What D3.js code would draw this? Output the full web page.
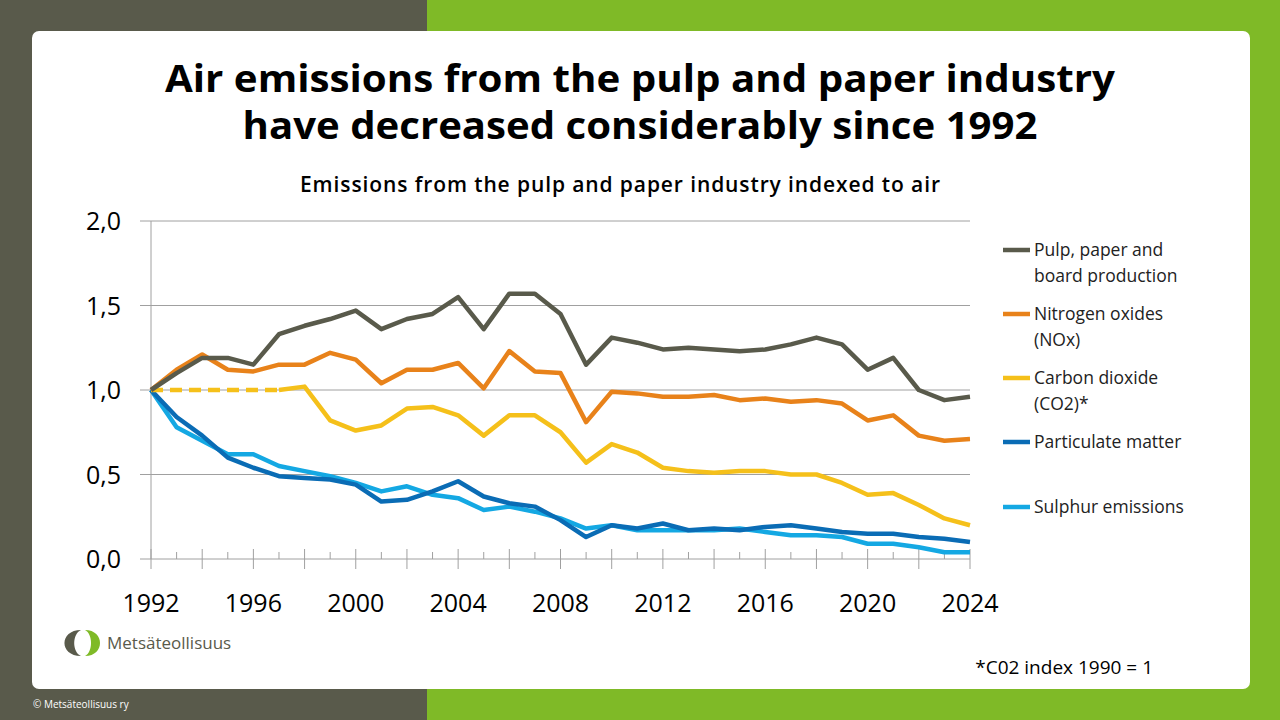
<!DOCTYPE html>
<html><head><meta charset="utf-8">
<script src="https://cdn.jsdelivr.net/npm/d3@7"></script>
<style>body{margin:0;overflow:hidden}svg{display:block;font-family:"Open Sans",sans-serif}</style>
</head><body>
<script>
var years = d3.range(1992, 2025);
var pulp = [1.0,1.10,1.19,1.19,1.15,1.33,1.38,1.42,1.47,1.36,1.42,1.45,1.55,1.36,1.57,1.57,1.45,1.15,1.31,1.28,1.24,1.25,1.24,1.23,1.24,1.27,1.31,1.27,1.12,1.19,1.00,0.94,0.96];
var nox = [1.0,1.12,1.21,1.12,1.11,1.15,1.15,1.22,1.18,1.04,1.12,1.12,1.16,1.01,1.23,1.11,1.10,0.81,0.99,0.98,0.96,0.96,0.97,0.94,0.95,0.93,0.94,0.92,0.82,0.85,0.73,0.70,0.71];
var co2 = [1.0,1.0,1.0,1.0,1.0,1.0,1.02,0.82,0.76,0.79,0.89,0.90,0.85,0.73,0.85,0.85,0.75,0.57,0.68,0.63,0.54,0.52,0.51,0.52,0.52,0.50,0.50,0.45,0.38,0.39,0.32,0.24,0.20];
var particulate = [1.0,0.84,0.73,0.60,0.54,0.49,0.48,0.47,0.44,0.34,0.35,0.40,0.46,0.37,0.33,0.31,0.23,0.13,0.20,0.18,0.21,0.17,0.18,0.17,0.19,0.20,0.18,0.16,0.15,0.15,0.13,0.12,0.10];
var sulphur = [1.0,0.78,0.70,0.62,0.62,0.55,0.52,0.49,0.45,0.40,0.43,0.38,0.36,0.29,0.31,0.28,0.24,0.18,0.20,0.17,0.17,0.17,0.17,0.18,0.16,0.14,0.14,0.13,0.09,0.09,0.07,0.04,0.04];
var co2DashedUntil = 1997;
var seriesNames = [["Pulp, paper and","board production"],["Nitrogen oxides","(NOx)"],["Carbon dioxide","(CO2)*"],["Particulate matter"],["Sulphur emissions"]];
var colors = ["#595a4b","#e8821a","#f5c01a","#0a6cb5","#14a8e3"];
var yTicks = [0,0.5,1.0,1.5,2.0];

var svg = d3.select("body").append("svg").attr("width",1280).attr("height",720);
svg.append("rect").attr("width",1280).attr("height",720).attr("fill","#7fba27");
svg.append("rect").attr("width",427).attr("height",720).attr("fill","#595a4b");
svg.append("rect").attr("x",32).attr("y",31).attr("width",1218).attr("height",658).attr("rx",7).attr("fill","#fff");

svg.append("text").attr("x",640).attr("y",92).attr("text-anchor","middle").attr("font-size",37).attr("font-weight",700).attr("textLength",950).attr("lengthAdjust","spacingAndGlyphs").text("Air emissions from the pulp and paper industry");
svg.append("text").attr("x",640).attr("y",139).attr("text-anchor","middle").attr("font-size",37).attr("font-weight",700).attr("textLength",795).attr("lengthAdjust","spacingAndGlyphs").text("have decreased considerably since 1992");
svg.append("text").attr("x",620).attr("y",192).attr("text-anchor","middle").attr("font-size",21).attr("font-weight",600).attr("textLength",640).text("Emissions from the pulp and paper industry indexed to air");

var x = d3.scaleLinear().domain([1992,2024]).range([151,970]);
var y = d3.scaleLinear().domain([0,2]).range([559,221]);

var g = svg.append("g");
g.selectAll(".grid").data(yTicks).enter().append("line")
  .attr("x1",140).attr("x2",970).attr("y1",function(d){return y(d)}).attr("y2",function(d){return y(d)})
  .attr("stroke","#a0a0a0").attr("stroke-width",1);
g.append("line").attr("x1",151).attr("x2",151).attr("y1",221).attr("y2",559).attr("stroke","#a0a0a0");
g.selectAll(".yl").data(yTicks).enter().append("text")
  .attr("x",121).attr("y",function(d){return y(d)+9}).attr("text-anchor","end").attr("font-size",25)
  .text(function(d){return d3.format(".1f")(d).replace(".",",")});
g.selectAll(".xt").data(years).enter().append("line")
  .attr("x1",function(d){return x(d)}).attr("x2",function(d){return x(d)})
  .attr("y1",function(d){return (d-1992)%2===0?y(0)-10:y(0)-7}).attr("y2",function(d){return (d-1992)%2===0?y(0)+10:y(0)})
  .attr("stroke","#a0a0a0");
g.selectAll(".xl").data(years.filter(function(d){return (d-1992)%4===0})).enter().append("text")
  .attr("x",function(d){return x(d)}).attr("y",612).attr("text-anchor","middle").attr("font-size",25).text(function(d){return d});

var line = d3.line().x(function(d){return x(d[0])}).y(function(d){return y(d[1])});
function pairs(arr){return years.map(function(yr,i){return [yr,arr[i]]})}
var data = [pulp,nox,co2,particulate,sulphur];
[4,3,2,1,0].forEach(function(k){
  var p = pairs(data[k]);
  if(k===2){
    g.append("path").attr("d",line(p.filter(function(d){return d[0]<=co2DashedUntil})))
      .attr("fill","none").attr("stroke",colors[k]).attr("stroke-width",4.5).attr("stroke-dasharray","12,7");
    p = p.filter(function(d){return d[0]>=co2DashedUntil});
  }
  g.append("path").attr("d",line(p)).attr("fill","none").attr("stroke",colors[k]).attr("stroke-width",4.5).attr("stroke-linejoin","round");
});

var legY = [250,314,378,442,507];
seriesNames.forEach(function(n,i){
  svg.append("line").attr("x1",1003).attr("x2",1030).attr("y1",legY[i]).attr("y2",legY[i]).attr("stroke",colors[i]).attr("stroke-width",4.5);
  var t = svg.append("text").attr("x",1034).attr("y",legY[i]+6).attr("font-size",17.5).attr("fill","#222");
  n.forEach(function(s,j){t.append("tspan").attr("x",1034).attr("dy",j?26:0).text(s)});
});

svg.append("text").attr("x",1153).attr("y",674).attr("text-anchor","end").attr("font-size",19).text("*C02 index 1990 = 1");
// logo
var lg = svg.append("g").attr("transform","translate(81,643)");
lg.append("path").attr("d","M0,-13 C-22,-13 -22,13 0,13 C-9,9 -9,-9 0,-13Z").attr("fill","#595a4b");
lg.append("path").attr("d","M4,-13 C24,-13 24,13 4,13 C12,9 12,-9 4,-13Z").attr("fill","#7fba27");
svg.append("text").attr("x",107).attr("y",649).attr("font-size",17).attr("fill","#595a4b").text("Metsäteollisuus");
svg.append("text").attr("x",33).attr("y",708).attr("font-size",10).attr("fill","#fff").text("© Metsäteollisuus ry");
</script>
</body></html>
